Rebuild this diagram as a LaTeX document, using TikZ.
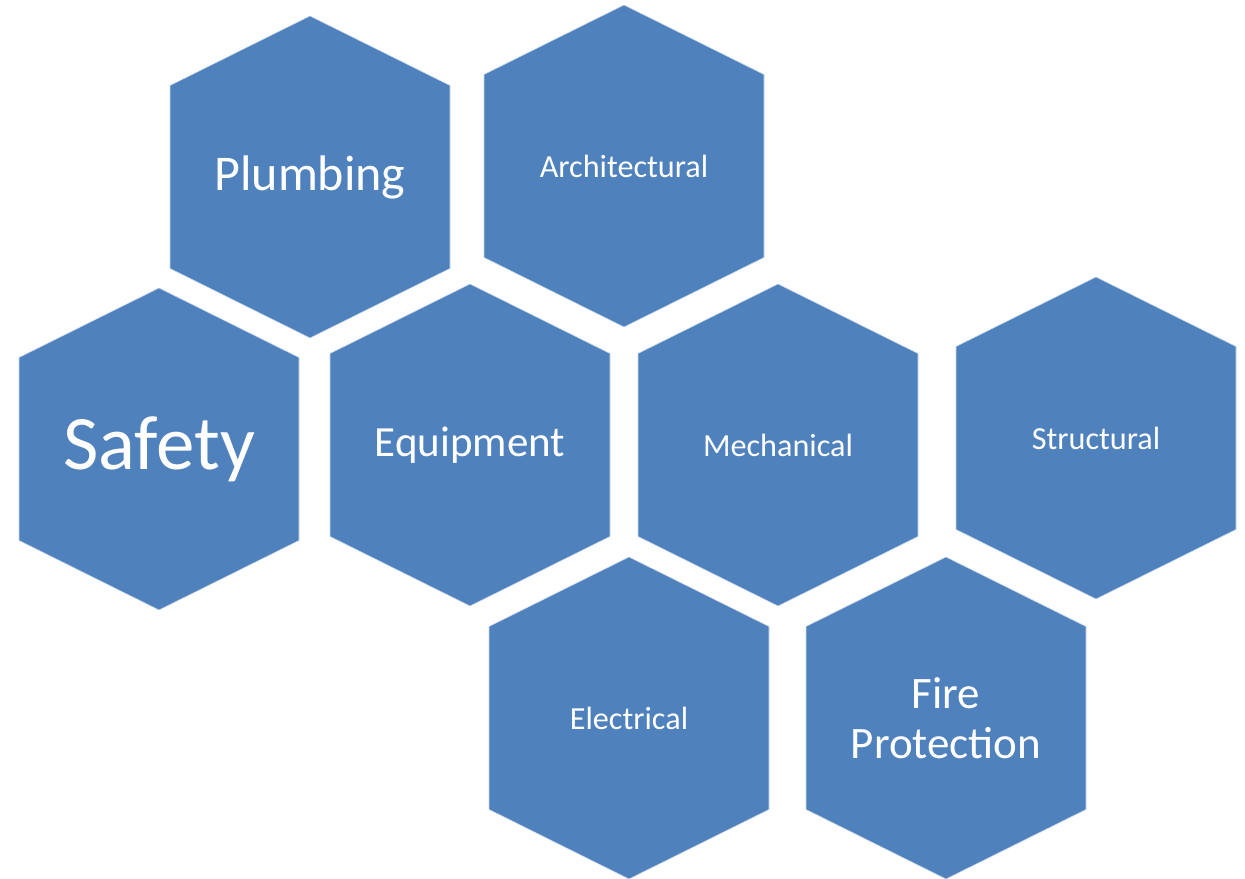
\documentclass[tikz,border=0pt]{standalone}
\usepackage{xcolor}
\usepackage{fontspec}
\setmainfont{Carlito}
\usepackage{tikz}
\usetikzlibrary{backgrounds}

\definecolor{hexblue}{HTML}{4F81BD}

\begin{document}
\begin{tikzpicture}[x=1bp, y=1bp]

\tikzstyle{every node}=[text=white, align=center, inner sep=0pt]
\tikzstyle{hexa}=[fill=hexblue, draw=white!70!hexblue, line width=0.6bp]

\useasboundingbox (0,0) rectangle (1245,879);

% top row %
\node[font=\fontsize{50bp}{56bp}\selectfont] (plumbing) at (310,702) {Plumbing};
\node[font=\fontsize{32.2bp}{38bp}\selectfont] (architectural) at (624,713) {Architectural};

% middle row %
\node[font=\fontsize{77bp}{84bp}\selectfont] (safety) at (159,430) {Safety};
\node[font=\fontsize{43bp}{48bp}\selectfont] (equipment) at (470,434) {Equipment};
\node[font=\fontsize{32.2bp}{38bp}\selectfont] (mechanical) at (778,434) {Mechanical};
\node[font=\fontsize{32.2bp}{38bp}\selectfont] (structural) at (1096,441) {Structural};

% bottom row %
\node[font=\fontsize{32.2bp}{38bp}\selectfont] (electrical) at (629,161) {Electrical};
\node[font=\fontsize{45bp}{50bp}\selectfont] (fire) at (946,161) {Fire\\Protection};

% hexagons %
\begin{scope}[on background layer]
\foreach \n in {plumbing, architectural, safety, equipment, mechanical, structural, electrical, fire}
  \draw[hexa] (\n.center) ++(0,161) -- ++(140,-69.5) -- ++(0,-183) -- ++(-140,-69.5)
    -- ++(-140,69.5) -- ++(0,183) -- cycle;
\end{scope}

\end{tikzpicture}
\end{document}
